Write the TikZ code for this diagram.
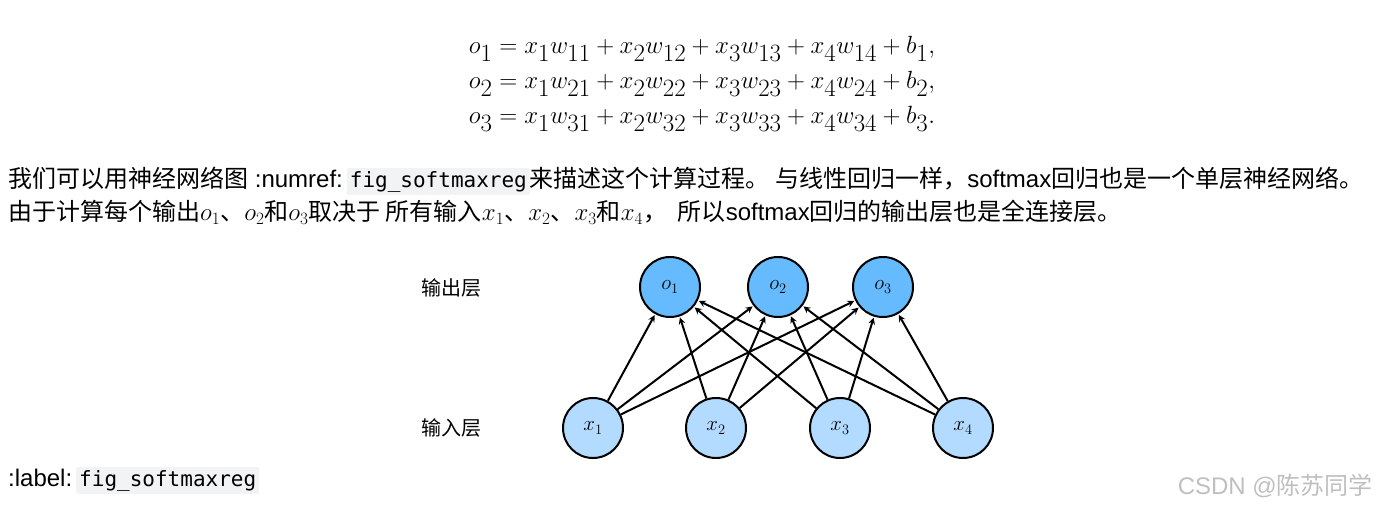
\documentclass[tikz,border=0pt]{standalone}
\usepackage{fontspec}
\usepackage{amsmath}
\setmainfont{Liberation Sans}
\setmonofont{DejaVu Sans Mono}
\newfontfamily\cjk{Noto Sans CJK SC}
\definecolor{ofill}{HTML}{66BBFF}
\definecolor{xfill}{HTML}{B3DAFF}
\definecolor{codebg}{HTML}{F2F3F5}
\newcommand{\cd}[1]{\tikz[baseline=(c.base)]\node[fill=codebg,rounded corners=2pt,inner xsep=3pt,inner ysep=3pt](c){\ttfamily\fontsize{21}{24}\selectfont #1};}
\begin{document}
\begin{tikzpicture}[x=1pt,y=-1pt,
  onode/.style={circle,draw,line width=2pt,fill=ofill,minimum size=60pt,inner sep=0pt,font=\fontsize{21}{21}\selectfont},
  xnode/.style={circle,draw,line width=2pt,fill=xfill,minimum size=60pt,inner sep=0pt,font=\fontsize{21}{21}\selectfont},
  conn/.style={-stealth,line width=2pt,shorten >=1pt},
  txt/.style={anchor=base west,inner sep=0pt,font=\fontsize{24}{28}\selectfont}]
\useasboundingbox (0,0) rectangle (1377,508);
\node[anchor=north,inner sep=0pt,font=\fontsize{36}{38}\selectfont] (eq) at (702,27) {$\begin{aligned}
o_1 &= x_1w_{11}+x_2w_{12}+x_3w_{13}+x_4w_{14}+b_1,\\[-6pt]
o_2 &= x_1w_{21}+x_2w_{22}+x_3w_{23}+x_4w_{24}+b_2,\\[-6pt]
o_3 &= x_1w_{31}+x_2w_{32}+x_3w_{33}+x_4w_{34}+b_3.
\end{aligned}$};
\node[txt] (l1) at (8,187) {{\cjk 我们可以用神经网络图} :numref:\,\cd{fig\_softmaxreg}{\cjk 来描述这个计算过程。 与线性回归一样，}softmax{\cjk 回归也是一个单层神经网络。}};
\node[txt] (l2) at (8,221) {{\cjk 由于计算每个输出}$o_1${\cjk 、}$o_2${\cjk 和}$o_3${\cjk 取决于 所有输入}$x_1${\cjk 、}$x_2${\cjk 、}$x_3${\cjk 和}$x_4${\cjk ，\ \ 所以}softmax{\cjk 回归的输出层也是全连接层。}};
\node[txt] (l3) at (8,486) {:label:\,\cd{fig\_softmaxreg}};
\node[anchor=base east,inner sep=0pt,text=black!25,font=\fontsize{24}{26}\selectfont] (wm) at (1373,494) {CSDN @{\cjk 陈苏同学}};
\node[font=\cjk\fontsize{20}{20}\selectfont] (lo) at (451,288) {输出层};
\node[font=\cjk\fontsize{20}{20}\selectfont] (li) at (451,428) {输入层};
\node[onode] (o1) at (670,287) {$o_1$};
\node[onode] (o2) at (778,287) {$o_2$};
\node[onode] (o3) at (883,287) {$o_3$};
\node[xnode] (x1) at (593,428) {$x_1$};
\node[xnode] (x2) at (716,428) {$x_2$};
\node[xnode] (x3) at (840,428) {$x_3$};
\node[xnode] (x4) at (963,428) {$x_4$};
\foreach \i in {1,2,3,4}{\foreach \j in {1,2,3}{\draw[conn] (x\i) -- (o\j);}}
\end{tikzpicture}
\end{document}
